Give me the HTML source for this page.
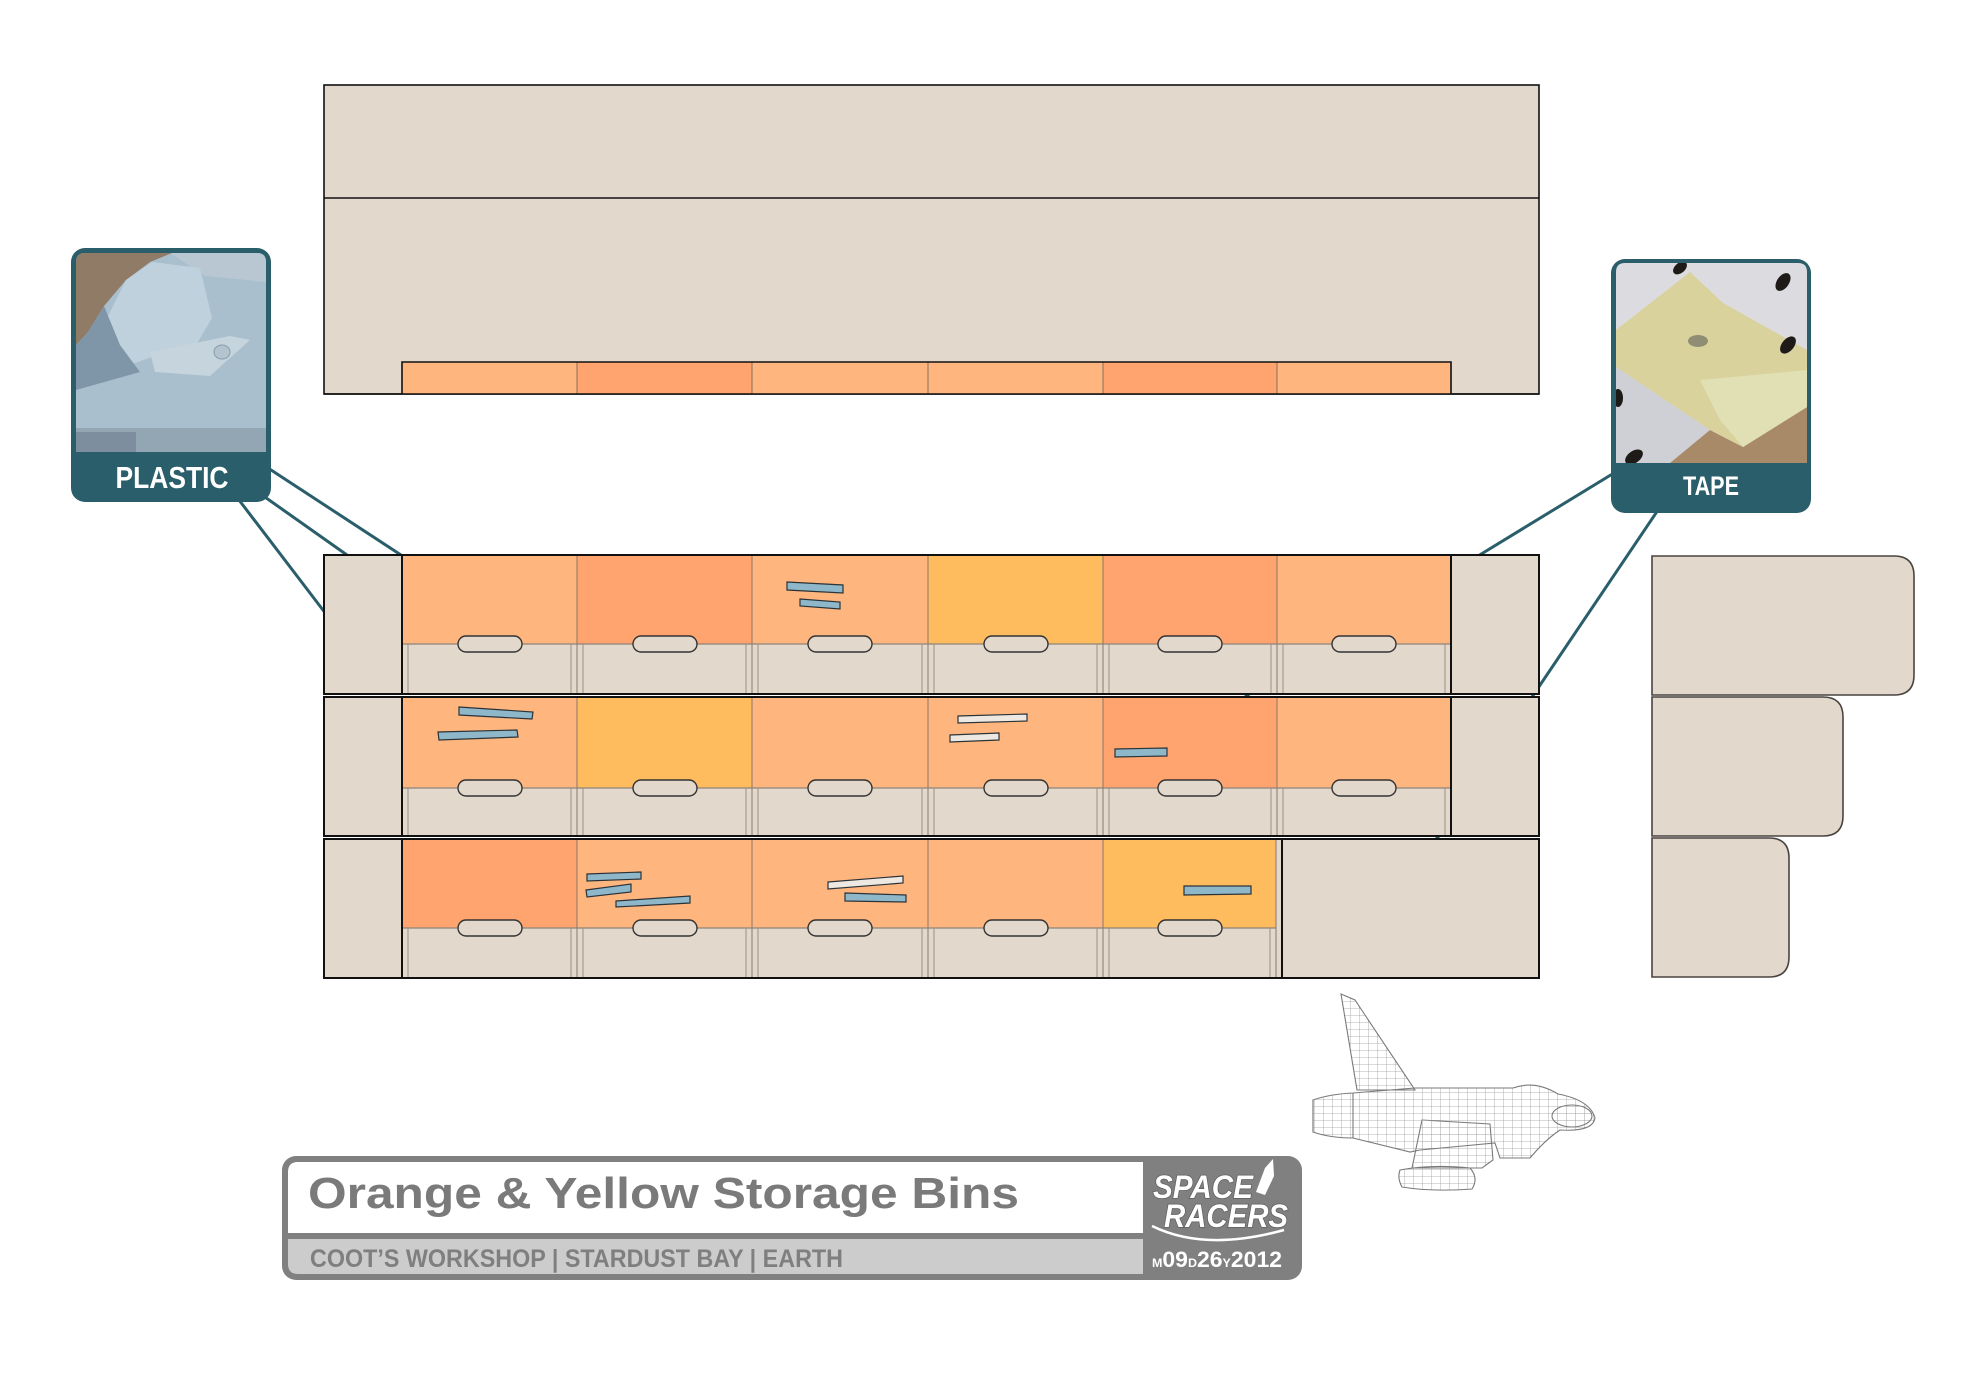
<!DOCTYPE html>
<html><head><meta charset="utf-8">
<style>
html,body{margin:0;padding:0;background:#fff;}
svg{display:block;}
</style></head>
<body>
<svg width="1962" height="1388" viewBox="0 0 1962 1388" xmlns="http://www.w3.org/2000/svg">
<defs>
<pattern id="grid" width="9" height="7" patternUnits="userSpaceOnUse">
<path d="M0,0 V7 M0,0 H9" stroke="#9c9c9c" stroke-width="0.8" fill="none"/>
</pattern>
<clipPath id="pclip"><path d="M85,253 H257 Q266,253 266,262 V452 H76 V262 Q76,253 85,253 Z"/></clipPath>
<clipPath id="tclip"><path d="M1625,263 H1798 Q1807,263 1807,272 V463 H1616 V272 Q1616,263 1625,263 Z"/></clipPath>
</defs>
<rect width="1962" height="1388" fill="#fff"/>

<!-- Top panel -->
<rect x="324" y="85" width="1215" height="309" fill="#E2D8CC" stroke="#111" stroke-width="1.6"/>
<line x1="324" y1="198" x2="1539" y2="198" stroke="#111" stroke-width="1.6"/>
<rect x="402" y="362" width="175" height="32" fill="#FFB57E"/>
<rect x="577" y="362" width="175" height="32" fill="#FFA46E"/>
<rect x="752" y="362" width="176" height="32" fill="#FFB57E"/>
<rect x="928" y="362" width="175" height="32" fill="#FFB57E"/>
<rect x="1103" y="362" width="174" height="32" fill="#FFA46E"/>
<rect x="1277" y="362" width="174" height="32" fill="#FFB57E"/>
<g stroke="#8a6e58" stroke-width="1"><line x1="577" y1="362" x2="577" y2="394"/><line x1="752" y1="362" x2="752" y2="394"/><line x1="928" y1="362" x2="928" y2="394"/><line x1="1103" y1="362" x2="1103" y2="394"/><line x1="1277" y1="362" x2="1277" y2="394"/></g>
<path d="M402,394 V362 H1451 V394" fill="none" stroke="#111" stroke-width="1.6"/>
<line x1="324" y1="394" x2="1539" y2="394" stroke="#111" stroke-width="1.6"/>

<!-- Teal connector lines -->
<g stroke="#2A5E6A" stroke-width="3" fill="none">
<line x1="268" y1="468" x2="401" y2="555"/>
<line x1="262" y1="495" x2="347" y2="555"/>
<line x1="239" y1="500" x2="326" y2="614"/>
<line x1="1614" y1="473" x2="1478" y2="556"/>
<line x1="1658" y1="510" x2="1532" y2="697"/>
<line x1="1245" y1="697" x2="1252" y2="692"/>
<line x1="1435" y1="840" x2="1440" y2="835"/>
</g>

<!-- ROW 1 -->
<rect x="324" y="555" width="1215" height="139" fill="#E2D8CC" stroke="#111" stroke-width="2"/>
<rect x="402" y="555" width="175" height="89" fill="#FFB57E"/>
<rect x="577" y="555" width="175" height="89" fill="#FFA46E"/>
<rect x="752" y="555" width="176" height="89" fill="#FFB57E"/>
<rect x="928" y="555" width="175" height="89" fill="#FFBC5E"/>
<rect x="1103" y="555" width="174" height="89" fill="#FFA46E"/>
<rect x="1277" y="555" width="174" height="89" fill="#FFB57E"/>
<line x1="402" y1="644" x2="1451" y2="644" stroke="#8f8379" stroke-width="1.2"/>
<g stroke="#8a7868" stroke-width="1"><line x1="577" y1="555" x2="577" y2="694"/><line x1="752" y1="555" x2="752" y2="694"/><line x1="928" y1="555" x2="928" y2="694"/><line x1="1103" y1="555" x2="1103" y2="694"/><line x1="1277" y1="555" x2="1277" y2="694"/></g>
<g stroke="#9a9088" stroke-width="1"><line x1="408" y1="644" x2="408" y2="694"/><line x1="571" y1="644" x2="571" y2="694"/><line x1="583" y1="644" x2="583" y2="694"/><line x1="746" y1="644" x2="746" y2="694"/><line x1="758" y1="644" x2="758" y2="694"/><line x1="922" y1="644" x2="922" y2="694"/><line x1="934" y1="644" x2="934" y2="694"/><line x1="1097" y1="644" x2="1097" y2="694"/><line x1="1109" y1="644" x2="1109" y2="694"/><line x1="1271" y1="644" x2="1271" y2="694"/><line x1="1283" y1="644" x2="1283" y2="694"/><line x1="1445" y1="644" x2="1445" y2="694"/></g>
<g fill="#E2D8CC" stroke="#333" stroke-width="1.4"><rect x="458" y="636" width="64" height="16" rx="8"/><rect x="633" y="636" width="64" height="16" rx="8"/><rect x="808" y="636" width="64" height="16" rx="8"/><rect x="984" y="636" width="64" height="16" rx="8"/><rect x="1158" y="636" width="64" height="16" rx="8"/><rect x="1332" y="636" width="64" height="16" rx="8"/></g>
<g stroke="#111" stroke-width="2"><line x1="402" y1="555" x2="402" y2="694"/><line x1="1451" y1="555" x2="1451" y2="694"/></g>
<rect x="324" y="555" width="1215" height="139" fill="none" stroke="#111" stroke-width="2"/>

<!-- ROW 2 -->
<rect x="324" y="697" width="1215" height="139" fill="#E2D8CC" stroke="#111" stroke-width="2"/>
<rect x="402" y="697" width="175" height="91" fill="#FFB57E"/>
<rect x="577" y="697" width="175" height="91" fill="#FFBC5E"/>
<rect x="752" y="697" width="176" height="91" fill="#FFB57E"/>
<rect x="928" y="697" width="175" height="91" fill="#FFB57E"/>
<rect x="1103" y="697" width="174" height="91" fill="#FFA46E"/>
<rect x="1277" y="697" width="174" height="91" fill="#FFB57E"/>
<line x1="402" y1="788" x2="1451" y2="788" stroke="#8f8379" stroke-width="1.2"/>
<g stroke="#8a7868" stroke-width="1"><line x1="577" y1="697" x2="577" y2="836"/><line x1="752" y1="697" x2="752" y2="836"/><line x1="928" y1="697" x2="928" y2="836"/><line x1="1103" y1="697" x2="1103" y2="836"/><line x1="1277" y1="697" x2="1277" y2="836"/></g>
<g stroke="#9a9088" stroke-width="1"><line x1="408" y1="788" x2="408" y2="836"/><line x1="571" y1="788" x2="571" y2="836"/><line x1="583" y1="788" x2="583" y2="836"/><line x1="746" y1="788" x2="746" y2="836"/><line x1="758" y1="788" x2="758" y2="836"/><line x1="922" y1="788" x2="922" y2="836"/><line x1="934" y1="788" x2="934" y2="836"/><line x1="1097" y1="788" x2="1097" y2="836"/><line x1="1109" y1="788" x2="1109" y2="836"/><line x1="1271" y1="788" x2="1271" y2="836"/><line x1="1283" y1="788" x2="1283" y2="836"/><line x1="1445" y1="788" x2="1445" y2="836"/></g>
<g fill="#E2D8CC" stroke="#333" stroke-width="1.4"><rect x="458" y="780" width="64" height="16" rx="8"/><rect x="633" y="780" width="64" height="16" rx="8"/><rect x="808" y="780" width="64" height="16" rx="8"/><rect x="984" y="780" width="64" height="16" rx="8"/><rect x="1158" y="780" width="64" height="16" rx="8"/><rect x="1332" y="780" width="64" height="16" rx="8"/></g>
<g stroke="#111" stroke-width="2"><line x1="402" y1="697" x2="402" y2="836"/><line x1="1451" y1="697" x2="1451" y2="836"/></g>
<rect x="324" y="697" width="1215" height="139" fill="none" stroke="#111" stroke-width="2"/>

<!-- ROW 3 -->
<rect x="324" y="839" width="1215" height="139" fill="#E2D8CC" stroke="#111" stroke-width="2"/>
<rect x="402" y="839" width="175" height="89" fill="#FFA46E"/>
<rect x="577" y="839" width="175" height="89" fill="#FFB57E"/>
<rect x="752" y="839" width="176" height="89" fill="#FFB57E"/>
<rect x="928" y="839" width="175" height="89" fill="#FFB57E"/>
<rect x="1103" y="839" width="173" height="89" fill="#FFBC5E"/>
<line x1="402" y1="928" x2="1276" y2="928" stroke="#8f8379" stroke-width="1.2"/>
<g stroke="#8a7868" stroke-width="1"><line x1="577" y1="839" x2="577" y2="978"/><line x1="752" y1="839" x2="752" y2="978"/><line x1="928" y1="839" x2="928" y2="978"/><line x1="1103" y1="839" x2="1103" y2="978"/><line x1="1276" y1="839" x2="1276" y2="978"/></g>
<g stroke="#9a9088" stroke-width="1"><line x1="408" y1="928" x2="408" y2="978"/><line x1="571" y1="928" x2="571" y2="978"/><line x1="583" y1="928" x2="583" y2="978"/><line x1="746" y1="928" x2="746" y2="978"/><line x1="758" y1="928" x2="758" y2="978"/><line x1="922" y1="928" x2="922" y2="978"/><line x1="934" y1="928" x2="934" y2="978"/><line x1="1097" y1="928" x2="1097" y2="978"/><line x1="1109" y1="928" x2="1109" y2="978"/><line x1="1270" y1="928" x2="1270" y2="978"/></g>
<g fill="#E2D8CC" stroke="#333" stroke-width="1.4"><rect x="458" y="920" width="64" height="16" rx="8"/><rect x="633" y="920" width="64" height="16" rx="8"/><rect x="808" y="920" width="64" height="16" rx="8"/><rect x="984" y="920" width="64" height="16" rx="8"/><rect x="1158" y="920" width="64" height="16" rx="8"/></g>
<g stroke="#111" stroke-width="2"><line x1="402" y1="839" x2="402" y2="978"/><line x1="1282" y1="839" x2="1282" y2="978"/></g>
<rect x="324" y="839" width="1215" height="139" fill="none" stroke="#111" stroke-width="2"/>

<!-- Sticks -->
<g stroke="#2a3338" stroke-width="1.2" fill="#8FB7CA">
<polygon points="787,582 843,585 843,593 787,590"/>
<polygon points="800,599 840,602 840,609 800,606"/>
<polygon points="459,707 533,712 532,719 459,715"/>
<polygon points="438,732 517,730 518,737 439,740"/>
<polygon points="1115,749 1167,748 1167,756 1115,757"/>
<polygon points="587,874 641,872 641,879 587,881"/>
<polygon points="586,890 631,884 631,892 587,897"/>
<polygon points="616,901 690,896 690,903 616,907"/>
<polygon points="845,893 906,895 906,902 845,901"/>
<polygon points="1184,886 1251,886 1251,894 1184,895"/>
</g>
<g stroke="#2a3338" stroke-width="1.2" fill="#EEE8E2">
<polygon points="958,716 1027,714 1027,721 958,723"/>
<polygon points="950,735 999,733 999,740 950,742"/>
<polygon points="828,882 903,876 903,883 828,889"/>
</g>

<!-- Right tabs -->
<g fill="#E2D8CC" stroke="#4a4440" stroke-width="1.6">
<path d="M1652,556 H1894 Q1914,556 1914,576 V675 Q1914,695 1894,695 H1652 Z"/>
<path d="M1652,697 H1823 Q1843,697 1843,717 V816 Q1843,836 1823,836 H1652 Z"/>
<path d="M1652,838 H1769 Q1789,838 1789,858 V957 Q1789,977 1769,977 H1652 Z"/>
</g>

<!-- PLASTIC callout -->
<rect x="71" y="248" width="200" height="254" rx="14" fill="#2A5E6A"/>
<g clip-path="url(#pclip)">
<rect x="76" y="253" width="190" height="199" fill="#a9bfcd"/>
<polygon points="170,253 266,253 266,282 205,276" fill="#b8c7d1"/>
<polygon points="76,253 172,253 150,262 126,280 104,306 88,332 76,345" fill="#8f7b66"/>
<polygon points="126,280 152,262 200,268 212,318 192,352 160,354 110,372 96,340" fill="#bfd1dd"/>
<polygon points="76,345 88,332 104,306 120,345 140,372 76,390" fill="#7f96a8"/>
<polygon points="150,352 230,336 250,340 210,376 155,372" fill="#c6d4dd"/>
<ellipse cx="222" cy="352" rx="8" ry="7" fill="#b4c4ce" stroke="#8a9ca8"/>
<rect x="76" y="428" width="190" height="24" fill="#93a6b4"/>
<rect x="76" y="432" width="60" height="20" fill="#7d8f9e"/>
</g>
<text x="172" y="488" text-anchor="middle" font-family="'Liberation Sans Narrow','Liberation Sans',sans-serif" font-weight="bold" font-size="31" fill="#fff" textLength="113" lengthAdjust="spacingAndGlyphs">PLASTIC</text>

<!-- TAPE callout -->
<rect x="1611" y="259" width="200" height="254" rx="14" fill="#2A5E6A"/>
<g clip-path="url(#tclip)">
<rect x="1616" y="263" width="191" height="200" fill="#dcdce0"/>
<polygon points="1616,367 1710,430 1670,463 1616,463" fill="#cfd0d5"/>
<polygon points="1670,463 1710,430 1743,447 1807,407 1807,463" fill="#a88a68"/>
<polygon points="1616,330 1690,272 1723,303 1807,350 1807,407 1743,447 1710,430 1616,367" fill="#d9d29c"/>
<polygon points="1700,380 1807,370 1807,407 1743,447 1720,420" fill="#e1e0b4"/>
<ellipse cx="1698" cy="341" rx="10" ry="6" fill="#8f8e74"/>
<g fill="#1e1a18">
<ellipse cx="1680" cy="268" rx="8" ry="5" transform="rotate(-40 1680 268)"/>
<ellipse cx="1783" cy="282" rx="10" ry="6" transform="rotate(-55 1783 282)"/>
<ellipse cx="1788" cy="345" rx="10" ry="6" transform="rotate(-50 1788 345)"/>
<ellipse cx="1618" cy="398" rx="5" ry="9"/>
<ellipse cx="1634" cy="457" rx="10" ry="6" transform="rotate(-35 1634 457)"/>
</g>
</g>
<text x="1711" y="495" text-anchor="middle" font-family="'Liberation Sans Narrow','Liberation Sans',sans-serif" font-weight="bold" font-size="27" fill="#fff" textLength="56" lengthAdjust="spacingAndGlyphs">TAPE</text>

<!-- Spaceship wireframe -->
<g stroke="#7a7a7a" stroke-width="1.1" fill="url(#grid)">
<path d="M1341,994 L1355,1000 L1363,1012 L1415,1090 L1357,1090 Z"/>
<path d="M1422,1120 L1490,1124 L1493,1160 L1482,1168 L1412,1168 Z"/>
<path d="M1400,1170 Q1432,1164 1470,1168 Q1479,1178 1472,1189 Q1432,1192 1402,1187 Q1397,1178 1400,1170 Z"/>
<path d="M1313,1100 Q1330,1094 1353,1093 L1415,1088 L1513,1088 Q1535,1080 1558,1094 Q1590,1100 1595,1118 Q1593,1132 1560,1130 Q1545,1140 1530,1158 L1500,1158 L1495,1143 L1420,1150 L1410,1152 L1353,1138 Q1330,1138 1313,1132 Z"/>
<ellipse cx="1572" cy="1116" rx="20" ry="11"/>
<path d="M1313,1100 L1313,1132 M1353,1093 L1353,1138" fill="none"/>
</g>

<!-- Title block -->
<rect x="282" y="1156" width="1020" height="124" rx="14" fill="#808080"/>
<path d="M298,1162 H1143 V1233 H288 V1172 Q288,1162 298,1162 Z" fill="#fff"/>
<path d="M288,1239 H1143 V1274 H298 Q288,1274 288,1264 Z" fill="#cccccc"/>
<text x="308" y="1208" font-family="'Liberation Sans',sans-serif" font-weight="bold" font-size="44" fill="#7a7a7a" textLength="711" lengthAdjust="spacingAndGlyphs">Orange &amp; Yellow Storage Bins</text>
<text x="310" y="1267" font-family="'Liberation Sans',sans-serif" font-weight="bold" font-size="25" fill="#7f7f7f" textLength="533" lengthAdjust="spacingAndGlyphs">COOT’S WORKSHOP | STARDUST BAY | EARTH</text>
<!-- Logo -->
<g font-family="'Liberation Sans',sans-serif" font-weight="bold" font-style="italic" fill="#fff" stroke="#5e5e5e" stroke-width="1.6" paint-order="stroke">
<text x="1153" y="1198" font-size="32" textLength="100" lengthAdjust="spacingAndGlyphs">SPACE</text>
<text x="1164" y="1227" font-size="32" textLength="124" lengthAdjust="spacingAndGlyphs">RACERS</text>
</g>
<path d="M1256,1192 L1265,1168 L1273,1159 L1274,1176 L1265,1195 Z" fill="#fff"/>
<path d="M1152,1226 Q1205,1252 1284,1230" fill="none" stroke="#fff" stroke-width="2.5"/>
<text x="1152" y="1267" font-family="'Liberation Sans',sans-serif" font-weight="bold" fill="#fff" font-size="22" textLength="130" lengthAdjust="spacingAndGlyphs"><tspan font-size="12">M</tspan>09<tspan font-size="12">D</tspan>26<tspan font-size="12">Y</tspan>2012</text>
</svg>
</body></html>
